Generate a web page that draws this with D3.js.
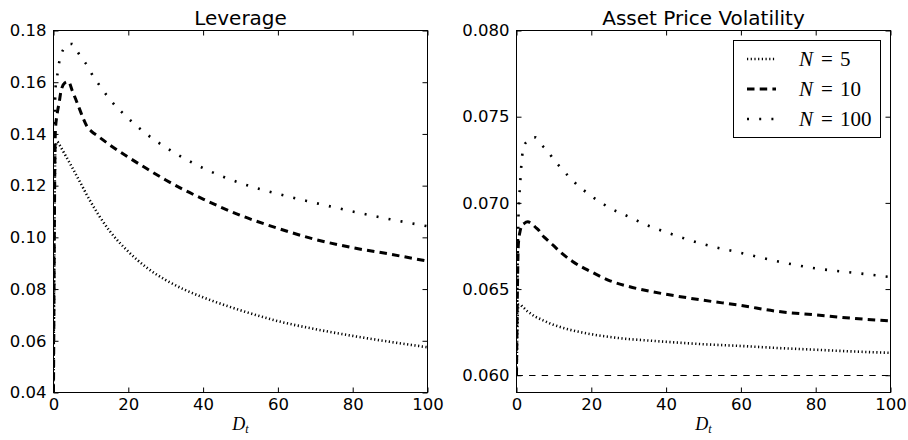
<!DOCTYPE html>
<html><head><meta charset="utf-8">
<script src="https://cdn.jsdelivr.net/npm/d3@7"></script>
<style>
html,body{margin:0;padding:0;background:#fff;}
svg{display:block;}
</style></head>
<body>
<svg id="chart" width="908" height="440"></svg>
<script>
// ---------- data ----------
const D = [0, 0.5, 1, 1.5, 2, 3, 4, 5, 6, 7, 8, 9, 10, 12, 15, 20, 25, 30, 35, 40, 50, 60, 70, 80, 90, 100];

const levN5   = [0.040, 0.134, 0.137, 0.136, 0.1348, 0.1322, 0.1296, 0.127, 0.1243, 0.1216, 0.1189, 0.1162, 0.1136, 0.1088, 0.1025, 0.0945, 0.0882, 0.0835, 0.0798, 0.0768, 0.0718, 0.0676, 0.0645, 0.0619, 0.0596, 0.0575];
const levN10  = [0.040, 0.141, 0.148, 0.152, 0.1565, 0.1597, 0.1602, 0.1568, 0.1532, 0.1495, 0.1458, 0.1428, 0.1412, 0.1390, 0.1358, 0.1310, 0.1265, 0.1222, 0.1183, 0.1148, 0.1085, 0.1035, 0.0992, 0.0960, 0.0935, 0.0908];
const levN100 = [0.040, 0.157, 0.1625, 0.1675, 0.1705, 0.1735, 0.1748, 0.1748, 0.1728, 0.1705, 0.1685, 0.1665, 0.1638, 0.1594, 0.1535, 0.1460, 0.1398, 0.1348, 0.1305, 0.1268, 0.1210, 0.1168, 0.1133, 0.1100, 0.1070, 0.1043];

const volN5   = [0.0600, 0.0641, 0.0641, 0.0640, 0.0639, 0.0637, 0.06355, 0.0634, 0.0633, 0.0632, 0.0631, 0.0630, 0.06292, 0.06278, 0.0626, 0.06238, 0.06222, 0.0621, 0.06202, 0.06194, 0.0618, 0.0617, 0.06158, 0.06148, 0.06138, 0.0613];
const volN10  = [0.0600, 0.0676, 0.0684, 0.0687, 0.0688, 0.0689, 0.0688, 0.0686, 0.0684, 0.0681, 0.0679, 0.0677, 0.0675, 0.0671, 0.0666, 0.0660, 0.06548, 0.06515, 0.0649, 0.0647, 0.06435, 0.06405, 0.0637, 0.0635, 0.0633, 0.06315];
const volN100 = [0.0600, 0.0690, 0.0712, 0.0727, 0.0733, 0.0736, 0.0738, 0.0738, 0.0736, 0.0733, 0.0731, 0.0728, 0.0725, 0.0720, 0.0713, 0.0704, 0.0697, 0.0692, 0.0687, 0.0683, 0.0676, 0.0671, 0.0666, 0.0662, 0.06595, 0.0657];

const volBaseline = 0.060;

const seriesNames = ["5", "10", "100"];
const xTicks = [0, 20, 40, 60, 80, 100];
const levTicks = [0.04, 0.06, 0.08, 0.10, 0.12, 0.14, 0.16, 0.18];
const volTicks = [0.060, 0.065, 0.070, 0.075, 0.080];
const titles = ["Leverage", "Asset Price Volatility"];

// ---------- styles ----------
const styles = [
  {w: 2.6, dash: "1.2,2.5"},   // N=5
  {w: 3,   dash: "7.5,5.2"},   // N=10
  {w: 2.6, dash: "2,10.2"}     // N=100
];

const svg = d3.select("#chart");
const FONT = "'DejaVu Sans', sans-serif";
const plotTop = 30.5, plotBottom = 392.5;

function panel(idx, x0, x1, yDomain, yTicks, yFmt, series, baseline) {
  const g = svg.append("g");
  const x = d3.scaleLinear().domain([0, 100]).range([x0, x1]);
  const y = d3.scaleLinear().domain(yDomain).range([plotBottom, plotTop]);

  const clipId = "clip" + idx;
  svg.append("clipPath").attr("id", clipId).append("rect")
    .attr("x", x0).attr("y", plotTop).attr("width", x1 - x0).attr("height", plotBottom - plotTop);

  const plot = g.append("g").attr("clip-path", `url(#${clipId})`);

  if (baseline !== null) {
    plot.append("line")
      .attr("x1", x(0)).attr("x2", x(100))
      .attr("y1", Math.round(y(baseline)) + 0.5).attr("y2", Math.round(y(baseline)) + 0.5)
      .attr("stroke", "#000").attr("stroke-width", 1).attr("stroke-dasharray", "6.4,6.2");
  }

  const line = d3.line().x((d, i) => x(D[i])).y(d => y(d)).curve(d3.curveMonotoneX);
  series.forEach((s, i) => {
    plot.append("path").datum(s)
      .attr("d", line)
      .attr("fill", "none")
      .attr("stroke", "#000")
      .attr("stroke-width", styles[i].w)
      .attr("stroke-dasharray", styles[i].dash)
      .attr("stroke-linecap", "butt");
  });

  const axB = g.append("g").attr("transform", `translate(0,${plotBottom})`)
    .call(d3.axisBottom(x).tickValues(xTicks).tickSizeInner(-5).tickSizeOuter(0).tickPadding(6).tickFormat(d3.format("d")));
  const axT = g.append("g").attr("transform", `translate(0,${plotTop})`)
    .call(d3.axisTop(x).tickValues(xTicks).tickSizeInner(-5).tickSizeOuter(0).tickFormat(""));
  const axL = g.append("g").attr("transform", `translate(${x0},0)`)
    .call(d3.axisLeft(y).tickValues(yTicks).tickSizeInner(-5).tickSizeOuter(0).tickPadding(7).tickFormat(d3.format(yFmt)));
  const axR = g.append("g").attr("transform", `translate(${x1},0)`)
    .call(d3.axisRight(y).tickValues(yTicks).tickSizeInner(-5).tickSizeOuter(0).tickFormat(""));
  [axB, axT, axL, axR].forEach(a => {
    a.select(".domain").remove();
    a.selectAll(".tick line").attr("stroke", "#000").attr("stroke-width", 1);
    a.selectAll("text").attr("font-family", FONT).attr("font-size", 16.5).attr("fill", "#000");
  });

  g.append("rect").attr("x", x0).attr("y", plotTop).attr("width", x1 - x0).attr("height", plotBottom - plotTop)
    .attr("fill", "none").attr("stroke", "#000").attr("stroke-width", 1);

  g.append("text").attr("x", (x0 + x1) / 2).attr("y", 25)
    .attr("text-anchor", "middle").attr("font-family", FONT).attr("font-size", 20)
    .text(titles[idx]);

  const xl = g.append("text").attr("x", (x0 + x1) / 2).attr("y", 430)
    .attr("font-family", "'Liberation Serif', 'DejaVu Serif', serif").attr("font-size", 18)
    .attr("font-style", "italic").attr("text-anchor", "middle");
  xl.append("tspan").text("D");
  xl.append("tspan").attr("font-size", 12).attr("dy", 3).text("t");

  return {x, y};
}

panel(0, 53.5, 427.5, [0.04, 0.18], levTicks, ".2f", [levN5, levN10, levN100], null);
panel(1, 516.5, 890.5, [0.059, 0.080], volTicks, ".3f", [volN5, volN10, volN100], volBaseline);

// legend
const lg = svg.append("g");
lg.append("rect").attr("x", 733.5).attr("y", 40.5).attr("width", 147).attr("height", 97)
  .attr("fill", "#fff").attr("stroke", "#000").attr("stroke-width", 1);
const rowY = [59, 89, 119];
seriesNames.forEach((n, i) => {
  lg.append("line").attr("x1", 747).attr("x2", 776).attr("y1", rowY[i]).attr("y2", rowY[i])
    .attr("stroke", "#000").attr("stroke-width", styles[i].w).attr("stroke-dasharray", styles[i].dash);
  const t = lg.append("g").attr("font-family", "'Liberation Serif', 'DejaVu Serif', serif").attr("font-size", 21);
  t.append("text").attr("x", 799).attr("y", rowY[i] + 7).attr("font-style", "italic").text("N");
  t.append("text").attr("x", 821).attr("y", rowY[i] + 7).text("=");
  t.append("text").attr("x", 840).attr("y", rowY[i] + 7).text(n);
});
</script>
</body></html>
